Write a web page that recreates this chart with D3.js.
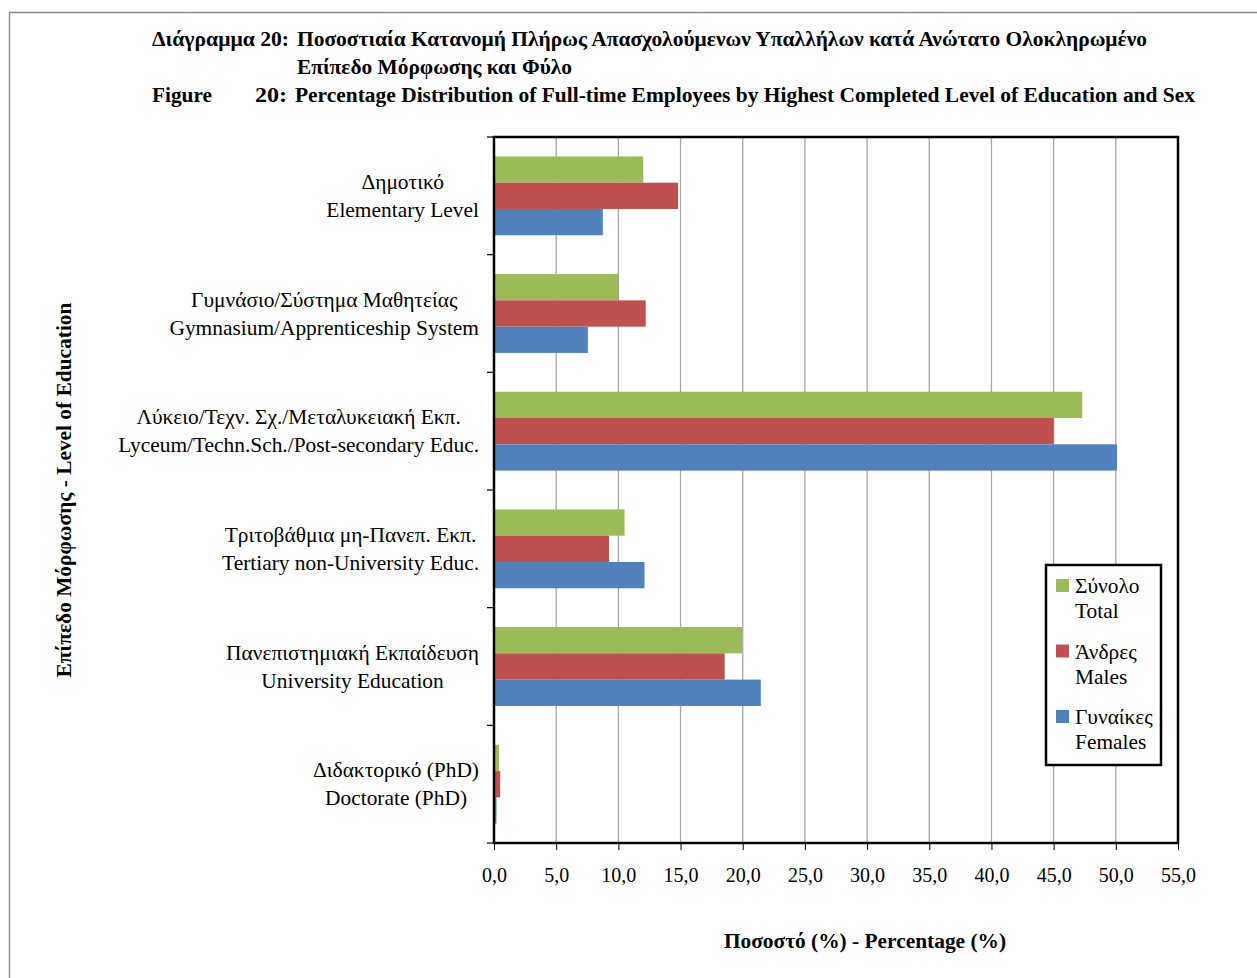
<!DOCTYPE html>
<html><head><meta charset="utf-8">
<script src="https://cdn.jsdelivr.net/npm/d3@7"></script>
<style>
html,body{margin:0;padding:0;background:#fff;}
svg{display:block;font-family:"Liberation Serif","Times New Roman",serif;}
</style></head>
<body>
<svg id="chart" width="1257" height="978"></svg>
<script>
const categoriesGr = ["Δημοτικό","Γυμνάσιο/Σύστημα Μαθητείας","Λύκειο/Τεχν. Σχ./Μεταλυκειακή Εκπ.","Τριτοβάθμια μη-Πανεπ. Εκπ.","Πανεπιστημιακή Εκπαίδευση","Διδακτορικό (PhD)"];
const categoriesEn = ["Elementary Level","Gymnasium/Apprenticeship System","Lyceum/Techn.Sch./Post-secondary Educ.","Tertiary non-University Educ.","University Education","Doctorate (PhD)"];
const seriesNames = [["Σύνολο","Total"],["Άνδρες","Males"],["Γυναίκες","Females"]];
const seriesKeys = ["total","males","females"];
const totalValues = [12.0, 10.0, 47.3, 10.5, 19.95, 0.4];
const malesValues = [14.8, 12.2, 45.0, 9.25, 18.55, 0.5];
const femalesValues = [8.75, 7.55, 50.1, 12.1, 21.45, 0.2];
const seriesColors = ["#9BBB59","#C0504D","#4F81BD"];
const xTicks = [0,5,10,15,20,25,30,35,40,45,50,55];

const svg = d3.select("#chart");
// outer frame
svg.append("rect").attr("x",9.5).attr("y",12.5).attr("width",1400).attr("height",1100)
  .attr("fill","none").attr("stroke","#8c8c8c").attr("stroke-width",1.5);

const L=494, R=1178, T=137, B=843;
const x = d3.scaleLinear().domain([0,55]).range([L,R]);
const y = d3.scaleBand().domain(d3.range(categoriesGr.length)).range([T,B]).paddingInner(0.33).paddingOuter(0.165);
const ySub = d3.scaleBand().domain(seriesKeys).range([0,y.bandwidth()]);

// gridlines
svg.append("g").selectAll("line").data(xTicks.slice(1,-1)).join("line")
  .attr("x1",d=>x(d)).attr("x2",d=>x(d)).attr("y1",T).attr("y2",B)
  .attr("stroke","#a6a6a6").attr("stroke-width",1.3);

// bars
const data = categoriesGr.map((c,i)=>({i, total:totalValues[i], males:malesValues[i], females:femalesValues[i]}));
const g = svg.append("g");
data.forEach(d=>{
  seriesKeys.forEach((k,j)=>{
    g.append("rect").attr("x",x(0)).attr("y",y(d.i)+ySub(k))
     .attr("width",x(d[k])-x(0)).attr("height",ySub.bandwidth())
     .attr("fill",seriesColors[j]);
  });
});

// plot border
svg.append("rect").attr("x",L).attr("y",T).attr("width",R-L).attr("height",B-T)
  .attr("fill","none").attr("stroke","#000").attr("stroke-width",2.5);

// x axis ticks & labels
const xAxis = d3.axisBottom(x).tickValues(xTicks).tickSize(7).tickFormat(d=>d3.format(".1f")(d).replace(".",","));
const xa = svg.append("g").attr("transform",`translate(0,${B})`).call(xAxis);
xa.select(".domain").remove();
xa.selectAll(".tick line").attr("stroke","#000").attr("stroke-width",1);
xa.selectAll(".tick text").attr("font-family","Liberation Serif").attr("font-size",20).attr("fill","#000").attr("dy","0").attr("y",882-B);

// y axis ticks at band boundaries
const step = (B-T)/categoriesGr.length;
svg.append("g").selectAll("line").data(d3.range(categoriesGr.length+1)).join("line")
  .attr("x1",L-7).attr("x2",L).attr("y1",d=>T+d*step).attr("y2",d=>T+d*step)
  .attr("stroke","#000").attr("stroke-width",1.2);

// category labels
const FS = 21.4;
const lab = svg.append("g").attr("font-size",FS).attr("fill","#000");
categoriesGr.forEach((c,i)=>{
  const cy = y(i)+y.bandwidth()/2;
  const t1 = lab.append("text").text(c).attr("text-anchor","middle").attr("y",cy-14+7);
  const t2 = lab.append("text").text(categoriesEn[i]).attr("text-anchor","middle").attr("y",cy+14+7);
  const w = Math.max(t1.node().getComputedTextLength(), t2.node().getComputedTextLength());
  const cx = 479 - w/2;
  t1.attr("x",cx); t2.attr("x",cx);
});

// legend
const lg = svg.append("g");
lg.append("rect").attr("x",1046).attr("y",565).attr("width",115).attr("height",200)
  .attr("fill","#fff").attr("stroke","#000").attr("stroke-width",2.5);
seriesNames.forEach((n,j)=>{
  const yy = 579 + j*65.5;
  lg.append("rect").attr("x",1056).attr("y",yy).attr("width",13).attr("height",13).attr("fill",seriesColors[j]);
  lg.append("text").attr("x",1075).attr("y",yy+14).attr("font-size",FS).text(n[0]);
  lg.append("text").attr("x",1075).attr("y",yy+39).attr("font-size",FS).text(n[1]);
});

// titles
const tt = svg.append("g").attr("font-weight","bold").attr("font-size",20.5).attr("fill","#000");
function tl(xp, yp, s, len){
  const t = tt.append("text").attr("x",xp).attr("y",yp).text(s);
  if(len) t.attr("textLength",len).attr("lengthAdjust","spacingAndGlyphs");
  return t;
}
tl(152,46,"Διάγραμμα 20:",137);
tl(297,46,"Ποσοστιαία Κατανομή Πλήρως Απασχολούμενων Υπαλλήλων κατά Ανώτατο Ολοκληρωμένο",850);
tl(297,74,"Επίπεδο Μόρφωσης και Φύλο",275);
tl(152,102,"Figure",60);
tl(255,102,"20:",32);
tl(295,102,"Percentage Distribution of Full-time Employees by Highest Completed Level of Education and Sex",900);

// axis titles
svg.append("text").attr("x",865).attr("y",948).attr("text-anchor","middle").attr("font-weight","bold").attr("font-size",FS)
  .text("Ποσοστό (%) - Percentage (%)");
svg.append("text").attr("transform","translate(71,490) rotate(-90)").attr("text-anchor","middle").attr("font-weight","bold").attr("font-size",FS)
  .text("Επίπεδο Μόρφωσης - Level of Education");
</script>
</body></html>
